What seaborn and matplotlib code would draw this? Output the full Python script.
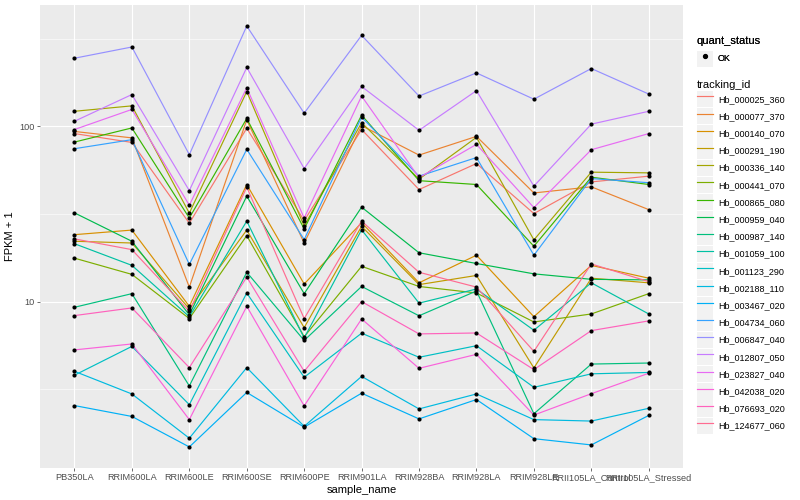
import numpy as np
import pandas as pd
import matplotlib
matplotlib.use("Agg")
import matplotlib.pyplot as plt
import seaborn as sns
from matplotlib.lines import Line2D
from matplotlib.patches import Rectangle
from matplotlib.legend_handler import HandlerTuple

# sample order on the x axis
samples = ['PB350LA', 'RRIM600LA', 'RRIM600LE', 'RRIM600SE', 'RRIM600PE', 'RRIM901LA',
           'RRIM928BA', 'RRIM928LA', 'RRIM928LE', 'RRII105LA_Control', 'RRII105LA_Stressed']

tracking_ids = ['Hb_000025_360', 'Hb_000077_370', 'Hb_000140_070', 'Hb_000291_190',
                'Hb_000336_140', 'Hb_000441_070', 'Hb_000865_080', 'Hb_000959_040',
                'Hb_000987_140', 'Hb_001059_100', 'Hb_001123_290', 'Hb_002188_110',
                'Hb_003467_020', 'Hb_004734_060', 'Hb_006847_040', 'Hb_012807_050',
                'Hb_023827_040', 'Hb_042038_020', 'Hb_076693_020', 'Hb_124677_060']

# FPKM + 1 per gene
hb_000025_360 = [91, 81, 28, 97.6, 29, 96, 43.6, 61.4, 31.8, 48.2, 52]
hb_000077_370 = [93.6, 86, 12.1, 109, 21.6, 101, 68.6, 87.7, 41.7, 45.2, 33.5]
hb_000140_070 = [24.1, 25.6, 9.4, 46.6, 12.6, 28.2, 12.8, 18.4, 8.2, 16.1, 13.6]
hb_000291_190 = [22.1, 21.6, 9.1, 25.6, 7.1, 26.9, 12.5, 14.1, 4.18, 13.6, 12.8]
hb_000336_140 = [122, 131, 32, 158, 27, 105, 50, 86.6, 22.5, 54.8, 54.3]
hb_000441_070 = [17.7, 14.3, 8.0, 23.8, 6.3, 15.9, 12.2, 11.2, 7.65, 8.5, 11.1]
hb_000865_080 = [81.4, 98, 30, 111, 26, 116, 49, 46.6, 20.7, 51.3, 46.6]
hb_000959_040 = [32.1, 22.1, 8.4, 40, 11.1, 34.6, 19.0, 16.5, 14.4, 13.4, 13.3]
hb_000987_140 = [9.28, 11.1, 3.3, 14.7, 6.0, 12.2, 8.3, 11.5, 2.29, 4.4, 4.46]
hb_001059_100 = [21.4, 16.1, 8.2, 28.8, 6.2, 25.7, 9.8, 11.8, 6.86, 12.8, 8.5]
hb_001123_290 = [3.8, 5.55, 2.58, 11.2, 3.7, 6.6, 4.81, 5.6, 3.24, 3.87, 3.94]
hb_002188_110 = [4.0, 2.97, 1.66, 4.2, 1.94, 3.74, 2.44, 2.97, 2.12, 2.08, 2.46]
hb_003467_020 = [2.55, 2.21, 1.48, 3.03, 1.92, 3.0, 2.14, 2.76, 1.65, 1.52, 2.24]
hb_004734_060 = [74.6, 84, 16.3, 74, 22.6, 113, 52, 66.4, 18.4, 50.4, 47.7]
hb_006847_040 = [245, 284, 69, 374, 119, 331, 149, 202, 143, 214, 153]
hb_012807_050 = [107, 152, 43, 217, 57.5, 169, 95, 160, 45.6, 103, 122]
hb_023827_040 = [96, 125, 35.5, 166, 30, 149, 51, 79, 34.4, 73.6, 91]
hb_042038_020 = [5.3, 5.73, 2.12, 9.4, 2.54, 7.96, 4.16, 5.0, 2.25, 2.98, 3.9]
hb_076693_020 = [8.32, 9.2, 4.2, 13.8, 4.0, 10.0, 6.54, 6.62, 4.09, 6.83, 7.76]
hb_124677_060 = [22.8, 19.8, 8.8, 45, 8.0, 28.8, 14.7, 12.1, 5.2, 16.4, 13.0]

series = [hb_000025_360, hb_000077_370, hb_000140_070, hb_000291_190, hb_000336_140,
          hb_000441_070, hb_000865_080, hb_000959_040, hb_000987_140, hb_001059_100,
          hb_001123_290, hb_002188_110, hb_003467_020, hb_004734_060, hb_006847_040,
          hb_012807_050, hb_023827_040, hb_042038_020, hb_076693_020, hb_124677_060]

# ggplot2 default hue palette for 20 levels
hue_colors = ["#F8766D", "#EA8331", "#D89000", "#C09B00", "#A3A500", "#7CAE00",
              "#39B600", "#00BB4E", "#00BF7D", "#00C1A3", "#00BFC4", "#00BAE0",
              "#00B0F6", "#35A2FF", "#9590FF", "#C77CFF", "#E76BF3", "#FA62DB",
              "#FF62BC", "#FF6C91"]
palette = dict(zip(tracking_ids, hue_colors))

rows = []
for tid, vals in zip(tracking_ids, series):
    for s, v in zip(samples, vals):
        rows.append({'tracking_id': tid, 'sample_name': s, 'fpkm': v, 'quant_status': 'OK'})
df = pd.DataFrame(rows)
df['sample_name'] = pd.Categorical(df['sample_name'], categories=samples, ordered=True)

plt.rcParams['font.family'] = ['Liberation Sans', 'DejaVu Sans']

fig = plt.figure(figsize=(8, 5), dpi=100)
ax = fig.add_axes([0.05, 0.064, 0.804, 0.926])
ax.set_facecolor('#EBEBEB')

sns.lineplot(data=df, x='sample_name', y='fpkm', hue='tracking_id', hue_order=tracking_ids,
             palette=palette, linewidth=0.85, sort=False, errorbar=None, legend=False, ax=ax)
sns.scatterplot(data=df, x='sample_name', y='fpkm', color='black', s=9, linewidth=0,
                legend=False, ax=ax, zorder=3)

ax.set_yscale('log')
lo = np.log10(df['fpkm'].min())
hi = np.log10(df['fpkm'].max())
pad = 0.05 * (hi - lo)
ax.set_ylim(10 ** (lo - pad), 10 ** (hi + pad))
ax.set_xlim(-0.6, len(samples) - 0.4)

ax.set_yticks([10, 100])
ax.set_yticklabels(['10', '100'])
ax.set_yticks([10 ** 0.5, 10 ** 1.5, 10 ** 2.5], minor=True)
ax.set_yticklabels([], minor=True)
ax.tick_params(axis='y', which='minor', length=0)
ax.set_xticks(range(len(samples)))
ax.set_xticklabels(samples)

ax.grid(which='major', color='white', linewidth=0.8)
ax.grid(which='minor', axis='y', color='white', linewidth=0.4)
ax.set_axisbelow(True)
for sp in ax.spines.values():
    sp.set_visible(False)
ax.tick_params(which='major', length=2, width=0.5, color='#333333',
               labelcolor='#4D4D4D', labelsize=6.6, pad=1.6)

ax.set_xlabel('sample_name', fontsize=8, color='black', labelpad=2)
ax.set_ylabel('FPKM + 1', fontsize=8, color='black', labelpad=3)

# legends in ggplot style: grey key boxes behind each key
key_bg = '#F2F2F2'
overlay = {tuple: HandlerTuple(ndivide=1, pad=0)}
ok_handle = (Rectangle((0, 0), 1, 1, facecolor=key_bg, edgecolor='none'),
             Line2D([], [], marker='o', color='black', linestyle='none', markersize=2.8))
leg1 = fig.legend([ok_handle], ['OK'], title='quant_status', loc='upper left',
                  bbox_to_anchor=(0.871, 0.928), frameon=False, fontsize=6.5,
                  title_fontsize=8, handlelength=1.8, handleheight=2.4,
                  handletextpad=0.55, borderpad=0, borderaxespad=0, alignment='left',
                  handler_map=overlay)

id_handles = [(Rectangle((0, 0), 1, 1, facecolor=key_bg, edgecolor='none'),
               Line2D([], [], color=palette[t], linewidth=0.85)) for t in tracking_ids]
leg2 = fig.legend(id_handles, tracking_ids, title='tracking_id', loc='upper left',
                  bbox_to_anchor=(0.871, 0.840), frameon=False, fontsize=6.5,
                  title_fontsize=8, handlelength=1.8, handleheight=2.4,
                  handletextpad=0.55, labelspacing=0.1, borderpad=0, borderaxespad=0,
                  alignment='left', handler_map=overlay)
fig.add_artist(leg1)

fig.savefig('out.png', dpi=100)
